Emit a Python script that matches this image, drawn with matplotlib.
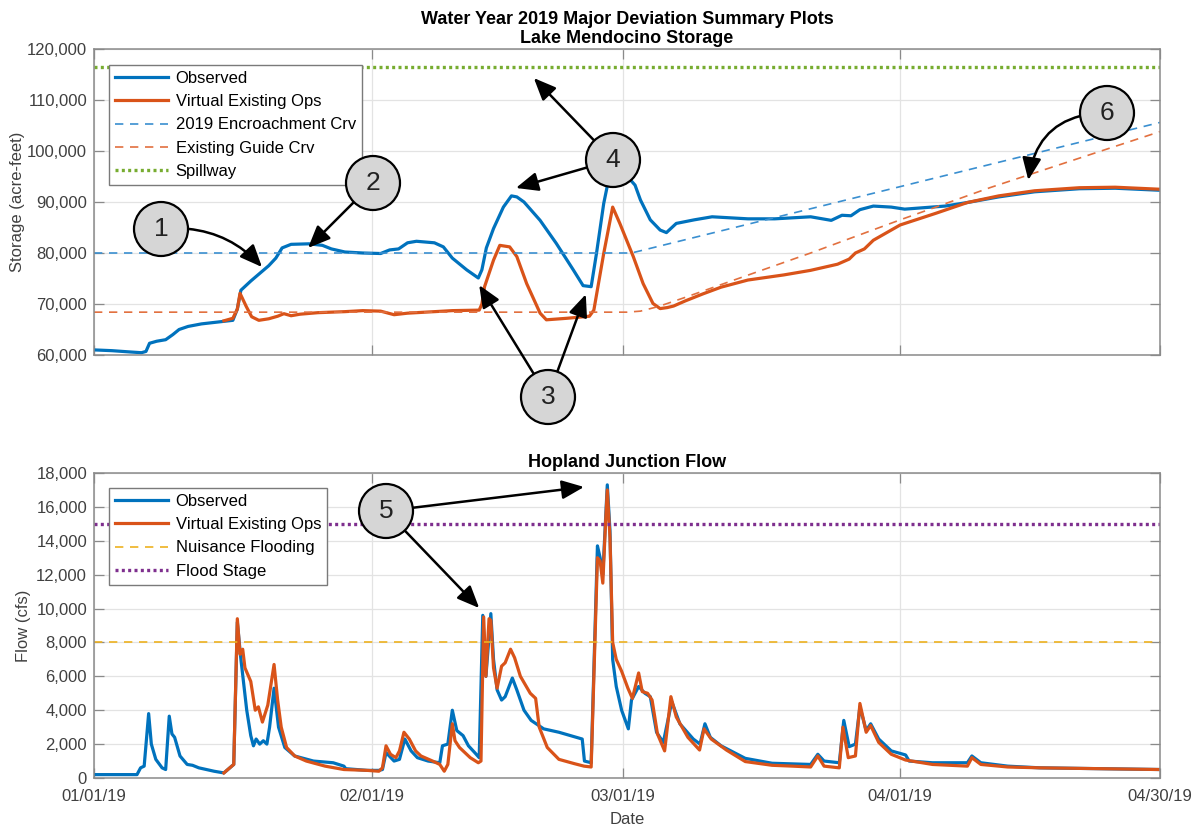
import numpy as np
import matplotlib
matplotlib.use('Agg')
import matplotlib.pyplot as plt
from matplotlib.patches import Circle
from matplotlib.transforms import IdentityTransform
from matplotlib.ticker import FuncFormatter

plt.rcParams['font.family'] = ['Liberation Sans', 'DejaVu Sans']

# ---------------- data (day offsets from 01/01/2019) ----------------
tick_days = [0, 31, 59, 90, 119]
tick_labels = ['01/01/19', '02/01/19', '03/01/19', '04/01/19', '04/30/19']

obs_stor_days = [0, 2, 4, 5.3, 5.8, 6.2, 7, 8, 8.8, 9.5, 10.5, 12, 14, 15.5, 16, 16.4, 17.5, 18.5,
                 19.5, 20.3, 21, 22, 24, 25.5, 26.5, 28, 30, 32, 33, 34, 35, 36, 38, 39, 40, 41.6,
                 42.9, 43.3, 43.8, 44.6, 45.7, 46.6, 47.2, 48, 49.8, 51.6, 53.5, 54.6, 55.5, 56.1,
                 56.9, 57.4, 58.2, 59.3, 60.4, 61, 62.1, 63.2, 63.9, 65, 67, 69, 71, 73, 76, 80,
                 82.3, 83.5, 84.5, 85.5, 87, 89, 90.5, 95, 97.5, 101, 105, 110, 114, 119]
obs_stor_vals = [61000, 60850, 60600, 60450, 60700, 62300, 62700, 63000, 64000, 65000, 65600, 66100,
                 66500, 66800, 69000, 72700, 74500, 76000, 77500, 79000, 81000, 81700, 81800, 81500,
                 80800, 80200, 80000, 79900, 80600, 80800, 82000, 82300, 82000, 81200, 79000, 76700,
                 75100, 76700, 81000, 84800, 89000, 91200, 91000, 90000, 86400, 81900, 76700, 73600,
                 73400, 80000, 89700, 94000, 96000, 95500, 93300, 90400, 86500, 84500, 84000, 85800,
                 86500, 87100, 86900, 86700, 86700, 87100, 86400, 87400, 87300, 88500, 89200, 89000,
                 88600, 89200, 89900, 91000, 92000, 92600, 92700, 92300]

vir_stor_days = [14.5, 15.5, 16.0, 16.3, 17.0, 17.6, 18.4, 19.5, 20.5, 21.2, 22.0, 23.0, 25, 28, 30,
                 32, 33.5, 35, 37, 40, 43.0, 43.3, 43.6, 44.6, 45.3, 46.4, 47.2, 48.3, 49.8, 50.5,
                 52.8, 55.3, 55.8, 56.9, 57.9, 58.7, 60.2, 61.3, 62.4, 63.2, 64, 64.7, 66, 68, 70,
                 73, 77, 80, 83, 84.3, 85, 86, 87, 90, 94, 97.5, 101, 105, 110, 114, 119]
vir_stor_vals = [66700, 67200, 69000, 72100, 69500, 67500, 66800, 67100, 67600, 68100, 67700, 68000,
                 68300, 68500, 68700, 68600, 67900, 68200, 68400, 68700, 68800, 70000, 73400, 78600,
                 81500, 81200, 79300, 74000, 68200, 66900, 67200, 67600, 68800, 79900, 89000, 85800,
                 79300, 74000, 70100, 69100, 69300, 69600, 70600, 72000, 73300, 74700, 75700, 76600,
                 77800, 78800, 80000, 80800, 82500, 85500, 87800, 89900, 91200, 92200, 92800, 92900,
                 92500]

enc_days = [0, 60, 119]
enc_vals = [80000, 80000, 105600]

guide_days = [0, 59.5, 61, 63, 66, 70, 80, 90, 100, 110, 119]
guide_vals = [68400, 68400, 68600, 69500, 71300, 73800, 80000, 86500, 92800, 98600, 103800]

spillway = 116500

obs_flow_days = [0, 4.8, 5.2, 5.6, 6.1, 6.4, 6.9, 7.6, 8.0, 8.4, 8.7, 9.0, 9.6, 10.4, 11.0, 11.7,
                 13.4, 14.5, 15.6, 16.0, 16.4, 17.05, 17.5, 17.8, 18.1, 18.5, 18.9, 19.3, 19.6,
                 20.1, 20.6, 21.3, 22.4, 24.5, 26.7, 27.9, 28.1, 30.5, 31.8, 32.2, 32.6, 33.5, 34.1,
                 34.7, 35.4, 36.1, 37.3, 38.6, 38.9, 39.5, 40.0, 40.5, 41.2, 41.8, 42.5, 43.0, 43.4,
                 43.75, 44.3, 44.6, 45.0, 45.5, 45.9, 46.7, 47.2, 48.0, 48.8, 50.2, 51.9, 54.5,
                 54.75, 55.5, 56.2, 56.5, 56.8, 57.3, 57.6, 57.9, 58.3, 58.9, 59.65, 60.0, 60.8,
                 61.5, 62.1, 62.8, 63.55, 64.5, 65.4, 66.9, 67.65, 68.2, 68.8, 70.0, 72.7, 75.7,
                 80.0, 80.8, 81.5, 83.2, 83.7, 84.3, 85.0, 85.5, 86.2, 86.7, 87.6, 89.0, 90.6, 91.0,
                 93.6, 97.5, 98.0, 99, 102, 105.6, 119]
obs_flow_vals = [200, 200, 600, 700, 3800, 2000, 1100, 600, 500, 3650, 2600, 2400, 1300, 800, 750, 600,
                 400, 300, 800, 9200, 7000, 4000, 2500, 1900, 2300, 2000, 2200, 2000, 3000,
                 5300, 3000, 1800, 1300, 1000, 900, 700, 550, 450, 450, 500, 1500, 1000, 1100,
                 2300, 1600, 1200, 1000, 900, 1900, 2000, 4000, 2800, 2500, 1900, 1500, 1200, 9600,
                 6000, 9700, 7000, 5200, 4600, 4800, 5900, 5200, 4000, 3400, 2900, 2700, 2300,
                 1000, 900, 13700, 13000, 12000, 17300, 14600, 7000, 5400, 4000, 2900, 4600, 5400,
                 5000, 4800, 2700, 2100, 4500, 3200, 2300, 2000, 3200, 2400, 1900, 1160, 870,
                 800, 1400, 1000, 900, 3400, 1850, 2000, 4200, 2800, 3200, 2300, 1600, 1360, 1000,
                 900, 900, 1300, 900, 700, 600, 500]

vir_flow_days = [14.5, 15.6, 16.0, 16.3, 16.6, 16.85, 17.5, 18.0, 18.35, 18.8, 19.4, 20.1, 20.5, 20.9,
                 21.5, 22.4, 23.7, 25.8, 27.9, 30.5, 31.8, 32.2, 32.6, 33.1, 33.7, 34.1, 34.6, 35.2,
                 35.9, 36.5, 37.8, 38.6, 39.1, 39.5, 40.0, 40.3, 40.8, 42.0, 42.9, 43.2, 43.5, 43.75,
                 44.1, 44.3, 44.6, 45.0, 45.5, 45.9, 46.5, 46.95, 47.6, 48.7, 49.3, 49.7, 50.6, 51.9,
                 53.6, 54.7, 55.5, 56.2, 56.5, 56.8, 57.1, 57.3, 57.6, 57.9, 58.3, 58.9, 59.6, 60.1,
                 60.8, 61.2, 61.8, 62.3, 62.9, 63.7, 64.4, 65.0, 66.3, 67.6, 68.1, 68.9, 70.6, 72.7,
                 75.7, 78, 80.0, 80.8, 81.5, 83.2, 83.6, 84.2, 85.0, 85.5, 86.2, 86.7, 87.6, 89.0,
                 90.6, 93.6, 97.5, 98.0, 99, 102, 105.6, 119]
vir_flow_vals = [300, 800, 9400, 7300, 7600, 6500, 5700, 4000, 4200, 3300, 4300, 6700, 4600, 3000,
                 1800, 1300, 1000, 700, 500, 450, 400, 600, 1900, 1400, 1200, 1600, 2700, 2300,
                 1600, 1300, 1000, 800, 400, 800, 3200, 2200, 1800, 1200, 900, 1000, 9500, 6000,
                 9400, 9300, 6500, 5300, 6600, 6800, 7600, 7100, 6000, 5000, 4700, 3000, 1800, 1100,
                 850, 700, 650, 13000, 12800, 11500, 15000, 17000, 14200, 8000, 7000, 6300, 5300, 4700,
                 6200, 5100, 5000, 4600, 2600, 1600, 4800, 3600, 2400, 1650, 2900, 2300, 1650, 970,
                 750, 700, 650, 1300, 700, 600, 3000, 1200, 1300, 4400, 2700, 3100, 2100, 1400,
                 1060, 800, 700, 1200, 800, 650, 600, 500]

nuisance = 8000
flood_stage = 15000

# annotation callouts: label, circle centre (image px), target panel, target (day, value), curvature
circle_labels = ['1', '2', '3', '4', '5', '6']
circle_centres = [(161, 229), (373, 183), (548, 397), (613, 160), (386, 511), (1107, 113)]
arrows = [  # (circle index, panel, day, value, rad)
    (0, 0, 18.75, 77250, -0.25),
    (1, 0, 23.9, 81000, 0.0),
    (2, 0, 43.0, 73700, 0.0),
    (2, 0, 54.9, 71900, 0.0),
    (3, 0, 47.1, 92750, 0.0),
    (3, 0, 49.1, 114300, 0.0),
    (4, 1, 43.0, 10030, 0.0),
    (4, 1, 54.7, 17175, 0.0),
    (5, 0, 104.3, 94300, 0.43),
]

# ---------------- styling ----------------
W, H = 1201, 825
BLUE = '#0072BD'
ORANGE = '#D95319'
GRID = '#e3e3e3'
SPINE = '#8a8a8a'
TXT = '#404040'

fig = plt.figure(figsize=(W / 100, H / 100), dpi=100)
ax1 = fig.add_axes([94 / W, 1 - 355 / H, (1160 - 94) / W, 306 / H])
ax2 = fig.add_axes([94 / W, 1 - 778 / H, (1160 - 94) / W, 305 / H])

fmt = FuncFormatter(lambda v, p: f'{int(round(v)):,}')

def style(ax):
    ax.set_xlim(0, 119)
    ax.set_xticks(tick_days)
    ax.grid(True, color=GRID, lw=0.9)
    ax.set_axisbelow(True)
    for s in ax.spines.values():
        s.set_color(SPINE)
        s.set_linewidth(1.1)
    ax.tick_params(direction='in', length=7.5, width=0.9, color=SPINE, top=True, right=True,
                   labelsize=12, labelcolor=TXT, pad=5)
    ax.tick_params(axis='x', pad=8)
    ax.yaxis.set_major_formatter(fmt)

leg_kw = dict(loc='upper left', borderaxespad=0, fontsize=12, handlelength=3.2,
              handletextpad=0.45, labelspacing=0.5, fancybox=False, framealpha=1,
              edgecolor='#7a7a7a', borderpad=0.35)

# ---- top panel ----
ax1.plot(obs_stor_days, obs_stor_vals, color=BLUE, lw=2.3, label='Observed')
ax1.plot(vir_stor_days, vir_stor_vals, color=ORANGE, lw=2.3, label='Virtual Existing Ops')
ax1.plot(enc_days, enc_vals, color='#3a8fd0', lw=1.2, dashes=(5, 4), label='2019 Encroachment Crv')
ax1.plot(guide_days, guide_vals, color='#e2703f', lw=1.2, dashes=(5, 4), label='Existing Guide Crv')
ax1.axhline(spillway, color='#77AC30', lw=2.4, dashes=(0.9, 1.0), label='Spillway')
style(ax1)
ax1.set_ylim(60000, 120000)
ax1.set_yticks(np.arange(60000, 120001, 10000))
ax1.set_xticklabels([])
ax1.set_ylabel('Storage (acre-feet)', fontsize=12, color=TXT)
ax1.yaxis.set_label_coords(-0.065, 0.5)
ax1.set_title('Water Year 2019 Major Deviation Summary Plots\nLake Mendocino Storage',
              fontsize=13, fontweight='bold', pad=4, linespacing=1.15)
leg1 = ax1.legend(bbox_to_anchor=(0.0141, 0.948), **leg_kw)
leg1.get_frame().set_linewidth(1.0)

# ---- bottom panel ----
ax2.plot(obs_flow_days, obs_flow_vals, color=BLUE, lw=2.3, label='Observed')
ax2.plot(vir_flow_days, vir_flow_vals, color=ORANGE, lw=2.3, label='Virtual Existing Ops')
ax2.axhline(nuisance, color='#EDB120', lw=1.2, dashes=(5, 4), label='Nuisance Flooding')
ax2.axhline(flood_stage, color='#7E2F8E', lw=2.4, dashes=(0.9, 1.0), label='Flood Stage')
style(ax2)
ax2.set_ylim(0, 18000)
ax2.set_yticks(np.arange(0, 18001, 2000))
ax2.set_xticklabels(tick_labels)
ax2.set_ylabel('Flow (cfs)', fontsize=12, color=TXT)
ax2.yaxis.set_label_coords(-0.059, 0.5)
ax2.set_xlabel('Date', fontsize=12, color=TXT, labelpad=6)
ax2.set_title('Hopland Junction Flow', fontsize=13, fontweight='bold', pad=4)
leg2 = ax2.legend(bbox_to_anchor=(0.0141, 0.951), **leg_kw)
leg2.get_frame().set_linewidth(1.0)

# ---- callouts ----
R = 27
axes = [ax1, ax2]
for ci, panel, d, v, rad in arrows:
    cx, cy = circle_centres[ci]
    axes[panel].annotate('', xy=(d, v), xycoords='data', xytext=(cx, H - cy),
                         textcoords='figure pixels', annotation_clip=False,
                         arrowprops=dict(arrowstyle='-|>,head_length=0.75,head_width=0.32',
                                         mutation_scale=18, color='black', lw=1.8,
                                         shrinkA=R * 0.72, shrinkB=0,
                                         connectionstyle=f'arc3,rad={rad}'))
for lab, (cx, cy) in zip(circle_labels, circle_centres):
    fig.add_artist(Circle((cx, H - cy), R, transform=IdentityTransform(),
                          facecolor='#d6d6d6', edgecolor='black', lw=1.6, zorder=5))
    fig.text(cx, H - cy, lab, transform=IdentityTransform(), ha='center', va='center',
             fontsize=19, color='#222222', zorder=6)

fig.savefig('out.png', dpi=100)
